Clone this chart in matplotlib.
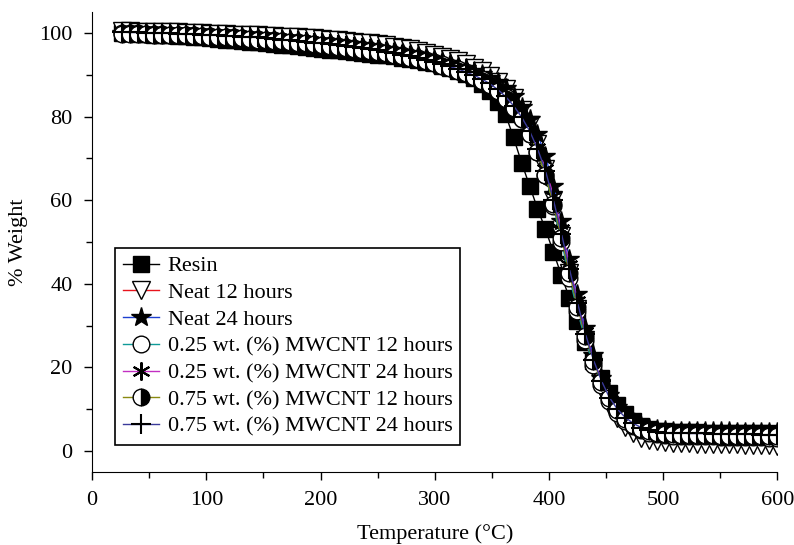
import matplotlib
matplotlib.use("Agg")
import matplotlib.pyplot as plt
from matplotlib.ticker import MultipleLocator

plt.rcParams['font.family'] = ['Liberation Serif', 'DejaVu Serif']

# Temperature (°C) at each recorded marker
temperature = [26, 33, 40, 47, 54, 61, 68, 75, 82, 89, 96,
               103, 110, 117, 124, 131, 138, 145, 152, 159, 166,
               173, 180, 187, 194, 201, 208, 215, 222, 229, 236,
               243, 250, 257, 264, 271, 278, 285, 292, 299, 306,
               313, 320, 327, 334, 341, 348, 355, 362, 369, 376,
               383, 390, 397, 404, 411, 418, 425, 432, 439, 446,
               453, 460, 467, 474, 481, 488, 495, 502,
               509, 516, 523, 530, 537, 544, 551, 558, 565, 572, 579, 586, 593, 600]

# % weight per sample
resin = [100.0, 99.9, 99.8, 99.7, 99.6, 99.5, 99.4, 99.3, 99.2, 99.0, 98.9,
         98.7, 98.6, 98.4, 98.3, 98.1, 97.9, 97.8, 97.6, 97.4, 97.2,
         97.0, 96.8, 96.6, 96.4, 96.2, 96.0, 95.8, 95.6, 95.4, 95.2,
         95.0, 94.8, 94.6, 94.4, 94.1, 93.8, 93.5, 93.1, 92.7, 92.2,
         91.6, 91.0, 90.2, 89.2, 87.8, 86.0, 83.5, 80.5, 75.0, 69.0,
         63.5, 58.0, 53.0, 47.5, 42.0, 36.5, 31.0, 26.0, 21.5, 17.5,
         14.0, 11.0, 8.8, 7.2, 6.0, 5.3, 4.9, 4.7,
         4.6, 4.6, 4.5, 4.5, 4.4, 4.4, 4.4, 4.3, 4.3, 4.3, 4.2, 4.2, 4.2, 4.1]

neat_12h = [100.5, 100.4, 100.3, 100.3, 100.2, 100.2, 100.1, 100.1, 100.0, 100.0, 99.9,
            99.8, 99.8, 99.7, 99.6, 99.5, 99.5, 99.4, 99.3, 99.2, 99.1,
            99.0, 98.9, 98.8, 98.7, 98.6, 98.4, 98.3, 98.1, 97.9, 97.7,
            97.5, 97.3, 97.0, 96.7, 96.4, 96.1, 95.7, 95.3, 94.8, 94.3,
            93.8, 93.2, 92.5, 91.7, 90.8, 89.7, 88.3, 86.6, 84.4, 81.6,
            78.0, 73.5, 67.5, 60.0, 51.5, 42.5, 34.0, 26.5, 20.0, 15.0,
            11.0, 8.0, 5.8, 4.2, 3.2, 2.6, 2.3, 2.1,
            2.0, 1.9, 1.9, 1.8, 1.8, 1.7, 1.7, 1.6, 1.6, 1.5, 1.5, 1.4, 1.4, 1.3]

neat_24h = [100.0, 100.0, 99.9, 99.9, 99.8, 99.8, 99.7, 99.7, 99.6, 99.5, 99.4,
            99.3, 99.2, 99.1, 99.0, 98.9, 98.8, 98.7, 98.6, 98.4, 98.3,
            98.2, 98.0, 97.9, 97.7, 97.6, 97.4, 97.2, 97.0, 96.8, 96.6,
            96.4, 96.2, 95.9, 95.6, 95.3, 95.0, 94.6, 94.2, 93.8, 93.3,
            92.8, 92.2, 91.6, 90.9, 90.2, 89.3, 88.2, 86.8, 84.8, 82.3,
            79.3, 75.8, 70.5, 63.5, 55.0, 46.0, 37.5, 29.5, 23.0, 17.5,
            13.5, 10.5, 8.5, 7.0, 6.0, 5.5, 5.2, 5.0,
            4.9, 4.9, 4.8, 4.8, 4.8, 4.7, 4.7, 4.7, 4.6, 4.6, 4.6, 4.5, 4.5, 4.5]

mw025_12h = [100.0, 99.9, 99.9, 99.8, 99.8, 99.7, 99.6, 99.6, 99.5, 99.4, 99.3,
             99.2, 99.1, 99.0, 98.9, 98.8, 98.6, 98.5, 98.4, 98.2, 98.1,
             97.9, 97.8, 97.6, 97.4, 97.2, 97.0, 96.8, 96.6, 96.4, 96.1,
             95.9, 95.6, 95.3, 95.0, 94.7, 94.3, 93.9, 93.5, 93.0, 92.5,
             91.9, 91.3, 90.6, 89.8, 88.9, 87.8, 86.4, 84.6, 82.3, 79.4,
             75.8, 71.5, 66.0, 58.5, 50.0, 41.5, 33.5, 26.5, 20.5, 15.8,
             12.0, 9.2, 7.3, 6.0, 5.0, 4.4, 4.0, 3.8,
             3.7, 3.6, 3.6, 3.5, 3.5, 3.5, 3.4, 3.4, 3.4, 3.3, 3.3, 3.3, 3.2, 3.2]

mw025_24h = [100.0, 100.0, 99.9, 99.9, 99.8, 99.7, 99.7, 99.6, 99.5, 99.4, 99.3,
             99.2, 99.1, 99.0, 98.9, 98.7, 98.6, 98.5, 98.3, 98.2, 98.0,
             97.8, 97.7, 97.5, 97.3, 97.1, 96.9, 96.7, 96.4, 96.2, 95.9,
             95.7, 95.4, 95.1, 94.7, 94.4, 94.0, 93.6, 93.1, 92.6, 92.1,
             91.5, 90.9, 90.2, 89.4, 88.5, 87.4, 86.0, 84.3, 82.2, 79.6,
             76.5, 72.5, 67.5, 61.0, 53.0, 44.5, 36.0, 28.5, 22.0, 17.0,
             13.0, 10.2, 8.2, 6.8, 5.8, 5.1, 4.7, 4.5,
             4.4, 4.4, 4.3, 4.3, 4.3, 4.2, 4.2, 4.2, 4.1, 4.1, 4.1, 4.0, 4.0, 4.0]

mw075_12h = [99.8, 99.8, 99.7, 99.7, 99.6, 99.6, 99.5, 99.4, 99.4, 99.3, 99.2,
             99.1, 99.0, 98.9, 98.8, 98.7, 98.5, 98.4, 98.3, 98.1, 98.0,
             97.8, 97.6, 97.5, 97.3, 97.1, 96.9, 96.7, 96.4, 96.2, 96.0,
             95.7, 95.4, 95.1, 94.8, 94.5, 94.1, 93.7, 93.2, 92.8, 92.2,
             91.7, 91.0, 90.3, 89.5, 88.6, 87.5, 86.1, 84.3, 82.1, 79.3,
             75.9, 71.5, 66.0, 59.0, 51.0, 42.5, 34.5, 27.5, 21.5, 16.5,
             12.6, 9.7, 7.7, 6.3, 5.3, 4.7, 4.3, 4.1,
             4.0, 3.9, 3.9, 3.8, 3.8, 3.8, 3.7, 3.7, 3.7, 3.6, 3.6, 3.6, 3.5, 3.5]

mw075_24h = [100.2, 100.1, 100.1, 100.0, 100.0, 99.9, 99.9, 99.8, 99.7, 99.7, 99.6,
             99.5, 99.4, 99.3, 99.2, 99.1, 99.0, 98.9, 98.7, 98.6, 98.4,
             98.3, 98.1, 97.9, 97.7, 97.5, 97.3, 97.1, 96.9, 96.6, 96.4,
             96.1, 95.8, 95.5, 95.2, 94.8, 94.4, 94.0, 93.6, 93.1, 92.6,
             92.0, 91.4, 90.7, 89.9, 89.0, 87.9, 86.5, 84.8, 82.6, 79.9,
             76.6, 72.3, 67.0, 60.0, 52.0, 43.5, 35.5, 28.0, 21.8, 16.8,
             12.8, 10.0, 8.0, 6.6, 5.6, 5.0, 4.6, 4.4,
             4.3, 4.3, 4.2, 4.2, 4.2, 4.1, 4.1, 4.1, 4.0, 4.0, 4.0, 3.9, 3.9, 3.9]

labels = ['Resin', 'Neat 12 hours', 'Neat 24 hours',
          '0.25 wt. (%) MWCNT 12 hours', '0.25 wt. (%) MWCNT 24 hours',
          '0.75 wt. (%) MWCNT 12 hours', '0.75 wt. (%) MWCNT 24 hours']
series = [resin, neat_12h, neat_24h, mw025_12h, mw025_24h, mw075_12h, mw075_24h]
line_colors = ['black', '#e8141c', '#1c3fd0', '#0f9a98', '#c22fc2', '#8a8a10', '#3a3a9a']
styles = [
    dict(marker='s', markersize=11, markerfacecolor='black'),
    dict(marker='v', markersize=13, markerfacecolor='white'),
    dict(marker='*', markersize=15, markerfacecolor='black'),
    dict(marker='o', markersize=12, markerfacecolor='white'),
    dict(marker=(6, 2, 0), markersize=13, markeredgewidth=1.5),
    dict(marker='o', markersize=12, fillstyle='right',
         markerfacecolor='black', markerfacecoloralt='white'),
    dict(marker='+', markersize=15, markeredgewidth=1.5),
]

fig = plt.figure(figsize=(7.94, 5.45), dpi=100)
ax = fig.add_axes([0.116, 0.134, 0.863, 0.844])

for y, lab, col, st in zip(series, labels, line_colors, styles):
    ax.plot(temperature, y, color=col, linewidth=1.0, label=lab,
            markeredgecolor='black', **st)

ax.set_xlim(0, 600)
ax.set_ylim(-5, 105)
ax.xaxis.set_major_locator(MultipleLocator(100))
ax.xaxis.set_minor_locator(MultipleLocator(50))
ax.yaxis.set_major_locator(MultipleLocator(20))
ax.yaxis.set_minor_locator(MultipleLocator(10))
ax.spines['top'].set_visible(False)
ax.spines['right'].set_visible(False)
ax.tick_params(which='major', direction='out', length=6, width=1, labelsize=16, pad=8)
ax.tick_params(which='minor', direction='out', length=4, width=1)
ax.set_xlabel('Temperature (°C)', fontsize=16, labelpad=10)
ax.set_ylabel('% Weight', fontsize=16, labelpad=8)

leg = ax.legend(loc='upper left', bbox_to_anchor=(0.034, 0.487), fontsize=16,
                frameon=True, fancybox=False, edgecolor='black', framealpha=1,
                handlelength=1.6, handletextpad=0.4, labelspacing=0.28,
                borderpad=0.35, borderaxespad=0)
leg.get_frame().set_linewidth(1.2)

fig.savefig('out.png', dpi=100)
